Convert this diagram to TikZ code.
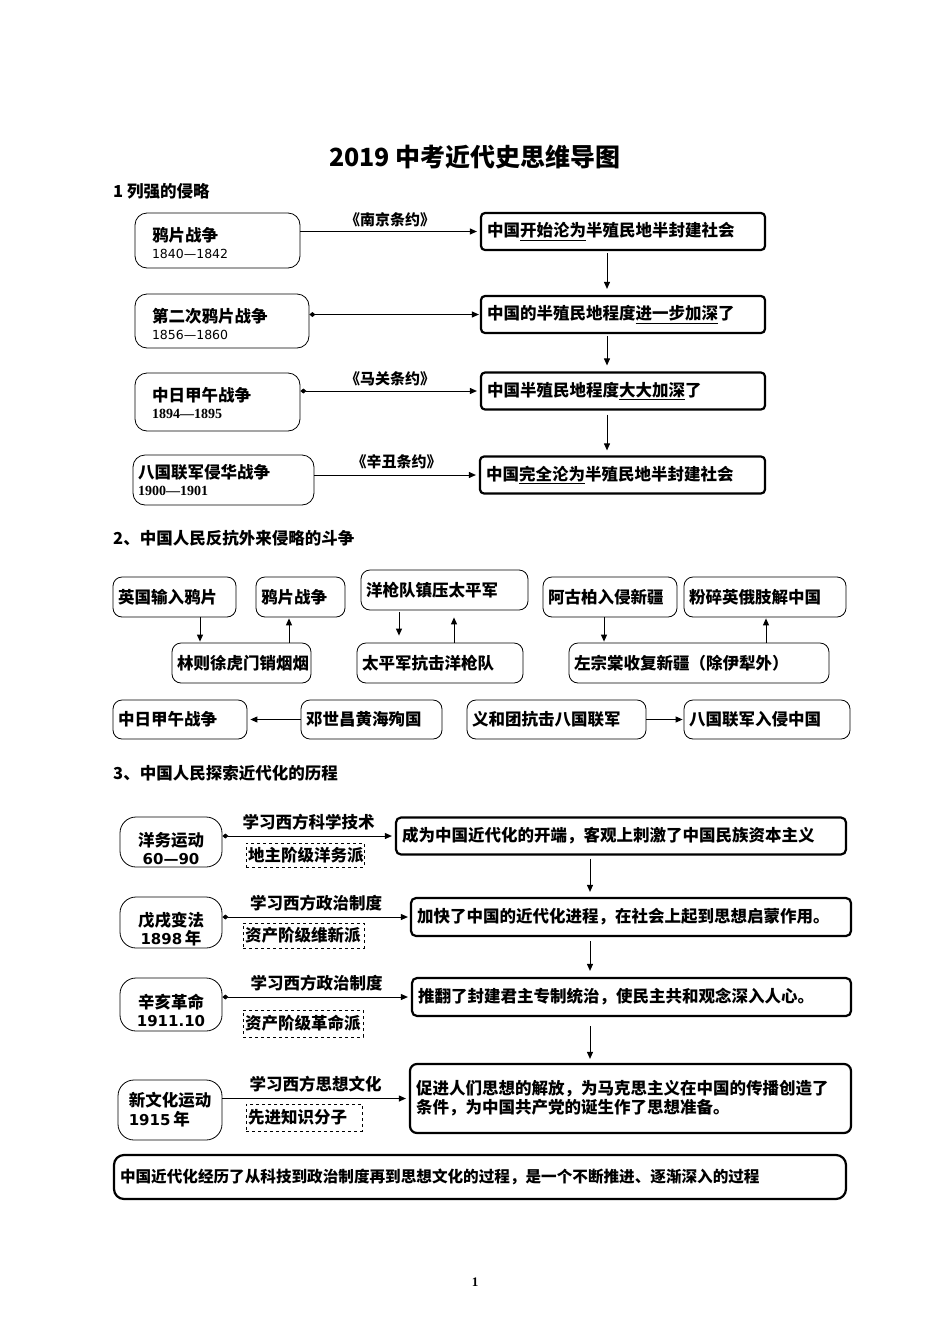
\documentclass[tikz,border=0pt]{standalone}
\usepackage{fontspec}
\setmainfont{Noto Sans CJK SC}
\newfontfamily\yearserif{Liberation Serif}
\newfontfamily\yearsans{DejaVu Sans}
\usepackage{tikz}
\usetikzlibrary{positioning,arrows.meta}

\begin{document}
\begin{tikzpicture}[x=1pt,y=-1pt,
	body/.style={font=\bfseries\fontsize{16.5}{19}\selectfont},
	head/.style={anchor=west,inner sep=0pt,font=\bfseries\fontsize{16.5}{19}\selectfont},
	war/.style={body,draw,rounded corners=12pt,line width=0.8pt,align=left,inner xsep=17pt,inner ysep=0pt},
	result/.style={body,draw,rounded corners=4pt,line width=2.2pt,minimum height=37pt,inner xsep=6pt,align=left},
	ev/.style={body,draw,rounded corners=9pt,line width=0.8pt,minimum height=40pt,inner xsep=5pt,align=left},
	move/.style={body,draw,rounded corners=16pt,line width=0.8pt,minimum width=102pt,align=center,inner ysep=0pt},
	dbox/.style={body,draw,dashed,line width=0.8pt,inner xsep=2pt,align=left,minimum height=25pt},
	treaty/.style={font=\bfseries\fontsize{15}{18}\selectfont,inner sep=1pt},
	study/.style={font=\bfseries\fontsize{16.5}{18}\selectfont,inner sep=1pt},
	arr/.style={line width=1pt,-{Triangle[length=7pt,width=6pt]}},
	darr/.style={line width=1pt,{Diamond[length=6pt,width=5pt]}-{Triangle[length=7pt,width=6pt]}}]

\useasboundingbox (0,0) rectangle (950,1344);

\node[font=\bfseries\fontsize{25}{28}\selectfont] (title) at (475,157) {2019 中考近代史思维导图};

% 1 列强的侵略
\node[head] (h1) at (113,191) {1 列强的侵略};

\node[war,text width=131pt,minimum height=55pt] (a1) at (217.5,240.5) {\rule{0pt}{20pt}鸦片战争\\[-2pt]{\yearsans\mdseries\fontsize{12.5}{15}\selectfont 1840—1842}};
\node[war,text width=140pt,minimum height=54pt] (a2) at (222,321) {\rule{0pt}{20pt}第二次鸦片战争\\[-2pt]{\yearsans\mdseries\fontsize{12.5}{15}\selectfont 1856—1860}};
\node[war,text width=131pt,minimum height=58pt] (a3) at (217.5,402) {\rule{0pt}{17pt}中日甲午战争\\[-2pt]{\yearserif\bfseries\fontsize{14}{15}\selectfont 1894—1895}};
\node[war,inner xsep=5pt,text width=171pt,minimum height=50pt] (a4) at (223.5,480) {八国联军侵华战争\\[-2pt]{\yearserif\bfseries\fontsize{14}{15}\selectfont 1900—1901}};

\node[result,text width=272pt] (b1) at (623,231.5) {中国\underline{开始沦为}半殖民地半封建社会};
\node[result,text width=272pt] (b2) at (623,314.5) {中国的半殖民地程度\underline{进一步加深}了};
\node[result,text width=272pt] (b3) at (623,391) {中国半殖民地程度\underline{大大加深}了};
\node[result,text width=273pt] (b4) at (622.5,475) {中国\underline{完全沦为}半殖民地半封建社会};

\draw[arr,shorten >=3pt] (a1.east |- b1) -- node[treaty,above=3pt]{《南京条约》} (b1.west);
\draw[darr,shorten >=1pt] (a2.east |- b2) -- (b2.west);
\draw[darr,shorten >=3pt] (a3.east |- b3) -- node[treaty,above=4pt]{《马关条约》} (b3.west);
\draw[arr,shorten >=3pt] (a4.east |- b4) -- node[treaty,above=5pt]{《辛丑条约》} (b4.west);

\draw[arr,shorten >=6pt,shorten <=2pt] ([xshift=-16pt]b1.south) -- ([xshift=-16pt]b2.north);
\draw[arr,shorten >=6pt,shorten <=2pt] ([xshift=-16pt]b2.south) -- ([xshift=-16pt]b3.north);
\draw[arr,shorten >=5pt,shorten <=4pt] ([xshift=-16pt]b3.south) -- ([xshift=-15.5pt]b4.north);

% 2 反抗外来侵略
\node[head] (h2) at (113,538) {2、中国人民反抗外来侵略的斗争};

\node[ev,text width=113pt] (c1) at (174.5,597) {英国输入鸦片};
\node[ev,text width=79pt] (c2) at (300.5,597) {鸦片战争};
\node[ev,text width=129pt] (c3) at (241.5,663) {林则徐虎门销烟烟};
\node[ev,text width=157pt] (c4) at (444.5,590) {洋枪队镇压太平军};
\node[ev,text width=156pt] (c5) at (440,663) {太平军抗击洋枪队};
\node[ev,text width=124pt] (c6) at (610,597) {阿古柏入侵新疆};
\node[ev,text width=152pt] (c7) at (765,597) {粉碎英俄肢解中国};
\node[ev,text width=250pt] (c8) at (699,663) {左宗棠收复新疆（除伊犁外）};
\node[ev,text width=124pt,minimum height=39pt] (c9) at (180,719.5) {中日甲午战争};
\node[ev,text width=131pt,minimum height=39pt] (c10) at (371.5,719.5) {邓世昌黄海殉国};
\node[ev,text width=169pt,minimum height=39pt] (c11) at (556.5,719.5) {义和团抗击八国联军};
\node[ev,text width=156pt,minimum height=39pt] (c12) at (767,719.5) {八国联军入侵中国};

\draw[arr,shorten >=1pt] ([xshift=25.5pt]c1.south) -- ([xshift=-41.5pt]c3.north);
\draw[arr,shorten >=1pt] ([xshift=47.5pt]c3.north) -- ([xshift=-11.5pt]c2.south);
\draw[arr,shorten <=2pt,shorten >=7pt] ([xshift=-45.5pt]c4.south) -- ([xshift=-41pt]c5.north);
\draw[arr,shorten >=7pt] ([xshift=14pt]c5.north) -- ([xshift=9.5pt]c4.south);
\draw[arr,shorten >=1pt] ([xshift=-6pt]c6.south) -- ([xshift=-95pt]c8.north);
\draw[arr,shorten >=1pt] ([xshift=67pt]c8.north) -- ([xshift=1pt]c7.south);
\draw[arr,shorten >=3pt] (c10) -- (c9);
\draw[arr,shorten >=1pt] (c11) -- (c12);

% 3 探索近代化
\node[head] (h3) at (113,773) {3、中国人民探索近代化的历程};

\node[move,minimum height=50pt] (d1) at (171,842) {\rule{0pt}{27pt}洋务运动\\[-1pt]{\yearsans\bfseries\fontsize{15}{17}\selectfont 60—90}};
\node[move,minimum height=51pt] (d2) at (171,922.5) {\rule{0pt}{27pt}戊戌变法\\[-1pt]{\yearsans\bfseries\fontsize{15}{17}\selectfont 1898}\,年};
\node[move,minimum height=53pt] (d3) at (171,1004.5) {\rule{0pt}{27pt}辛亥革命\\[-1pt]{\yearsans\bfseries\fontsize{15}{17}\selectfont 1911.10}};
\node[move,align=left,minimum width=104pt,minimum height=60pt] (d4) at (170,1110) {新文化运动\\{\yearsans\bfseries\fontsize{15}{17}\selectfont 1915}\,年};

\node[result,rounded corners=5pt,text width=438pt] (e1) at (621,836) {成为中国近代化的开端，客观上刺激了中国民族资本主义};
\node[result,rounded corners=5pt,text width=428pt,minimum height=38pt] (e2) at (631,917) {加快了中国的近代化进程，在社会上起到思想启蒙作用。};
\node[result,rounded corners=5pt,text width=427pt,minimum height=38pt] (e3) at (631.5,997) {推翻了封建君主专制统治，使民主共和观念深入人心。};
\node[result,rounded corners=7pt,text width=429pt,minimum height=69pt] (e4) at (630.5,1098.5) {促进人们思想的解放，为马克思主义在中国的传播创造了\\条件，为中国共产党的诞生作了思想准备。};

\node[dbox,text width=114pt,minimum height=24pt] (g1) at (305,855) {地主阶级洋务派};
\node[dbox,text width=117pt] (g2) at (303.5,935.5) {资产阶级维新派};
\node[dbox,text width=116pt,minimum height=27pt] (g3) at (303,1023.5) {资产阶级革命派};
\node[dbox,text width=112pt,minimum height=27pt] (g4) at (304,1117.5) {先进知识分子};

\draw[darr,shorten >=3pt] (d1.east |- e1) -- node[study,above=4pt]{学习西方科学技术} (e1.west);
\draw[darr,shorten >=2pt] (d2.east |- e2) -- node[study,above=4pt]{学习西方政治制度} (e2.west);
\draw[darr,shorten >=3pt] (d3.east |- e3) -- node[study,above=4pt]{学习西方政治制度} (e3.west);
\draw[arr,shorten >=3pt] (d4.east |- e4) -- node[study,above=5pt]{学习西方思想文化} (e4.west);

\draw[arr,shorten <=3pt,shorten >=5pt] ([xshift=-31pt]e1.south) -- ([xshift=-41pt]e2.north);
\draw[arr,shorten <=4pt,shorten >=6pt] ([xshift=-41pt]e2.south) -- ([xshift=-41.5pt]e3.north);
\draw[arr,shorten <=9pt,shorten >=4pt] ([xshift=-41.5pt]e3.south) -- ([xshift=-40.5pt]e4.north);

\node[result,rounded corners=10pt,font=\bfseries\fontsize{15.6}{18}\selectfont,text width=720pt,minimum height=44pt] (f) at (480,1177) {中国近代化经历了从科技到政治制度再到思想文化的过程，是一个不断推进、逐渐深入的过程};

\node[font=\yearserif\bfseries\fontsize{13}{15}\selectfont] (pg) at (475,1282) {1};

\end{tikzpicture}
\end{document}
